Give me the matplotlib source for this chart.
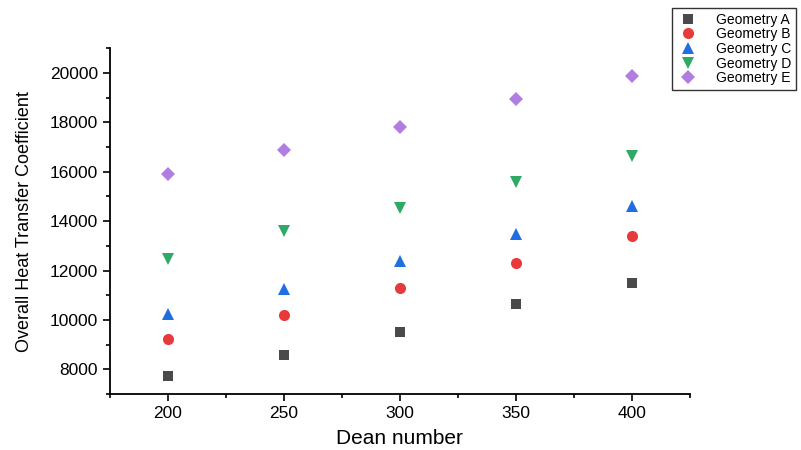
import matplotlib
matplotlib.use("Agg")
import matplotlib.pyplot as plt
from matplotlib.ticker import MultipleLocator

plt.rcParams['font.family'] = ['Liberation Sans', 'DejaVu Sans']

dean = [200, 250, 300, 350, 400]
geom_a = [7750, 8570, 9510, 10650, 11510]
geom_b = [9220, 10200, 11300, 12290, 13390]
geom_c = [10240, 11260, 12370, 13470, 14600]
geom_d = [12450, 13590, 14530, 15590, 16650]
geom_e = [15920, 16860, 17800, 18940, 19880]
labels = ['Geometry A', 'Geometry B', 'Geometry C', 'Geometry D', 'Geometry E']

fig = plt.figure(figsize=(8.01, 4.5), dpi=100)
ax = fig.add_axes([0.137, 0.124, 0.724, 0.769])

series = [geom_a, geom_b, geom_c, geom_d, geom_e]
markers = ['s', 'o', '^', 'v', 'D']
colors = ['#4a4a4a', '#e83a3a', '#1f6fe0', '#2eaa66', '#b07ee0']
sizes = [7, 8, 8.5, 8.5, 7]
for ys, m, c, s, lab in zip(series, markers, colors, sizes, labels):
    ax.plot(dean, ys, linestyle='none', marker=m, color=c, markersize=s,
            markeredgewidth=0, label=lab)

ax.set_xlim(175, 425)
ax.set_ylim(7000, 21000)
ax.xaxis.set_major_locator(MultipleLocator(50))
ax.xaxis.set_minor_locator(MultipleLocator(25))
ax.yaxis.set_major_locator(MultipleLocator(2000))
ax.yaxis.set_minor_locator(MultipleLocator(1000))
ax.tick_params(which='major', direction='out', length=5, width=1.2, labelsize=12.5)
ax.tick_params(which='minor', direction='out', length=3, width=1.2)
for side in ['top', 'right']:
    ax.spines[side].set_visible(False)
for side in ['left', 'bottom']:
    ax.spines[side].set_linewidth(1.3)

ax.set_xlabel('Dean number', fontsize=15, labelpad=6)
ax.set_ylabel('Overall Heat Transfer Coefficient', fontsize=13, labelpad=12)

leg = fig.legend(loc='upper left', bbox_to_anchor=(0.839, 0.983), fontsize=10,
                 frameon=True, fancybox=False, edgecolor='black',
                 borderpad=0.35, labelspacing=0.05, handletextpad=1.2,
                 handlelength=1.6, borderaxespad=0)
leg.get_frame().set_linewidth(1.0)

fig.savefig('out.png', dpi=100)
